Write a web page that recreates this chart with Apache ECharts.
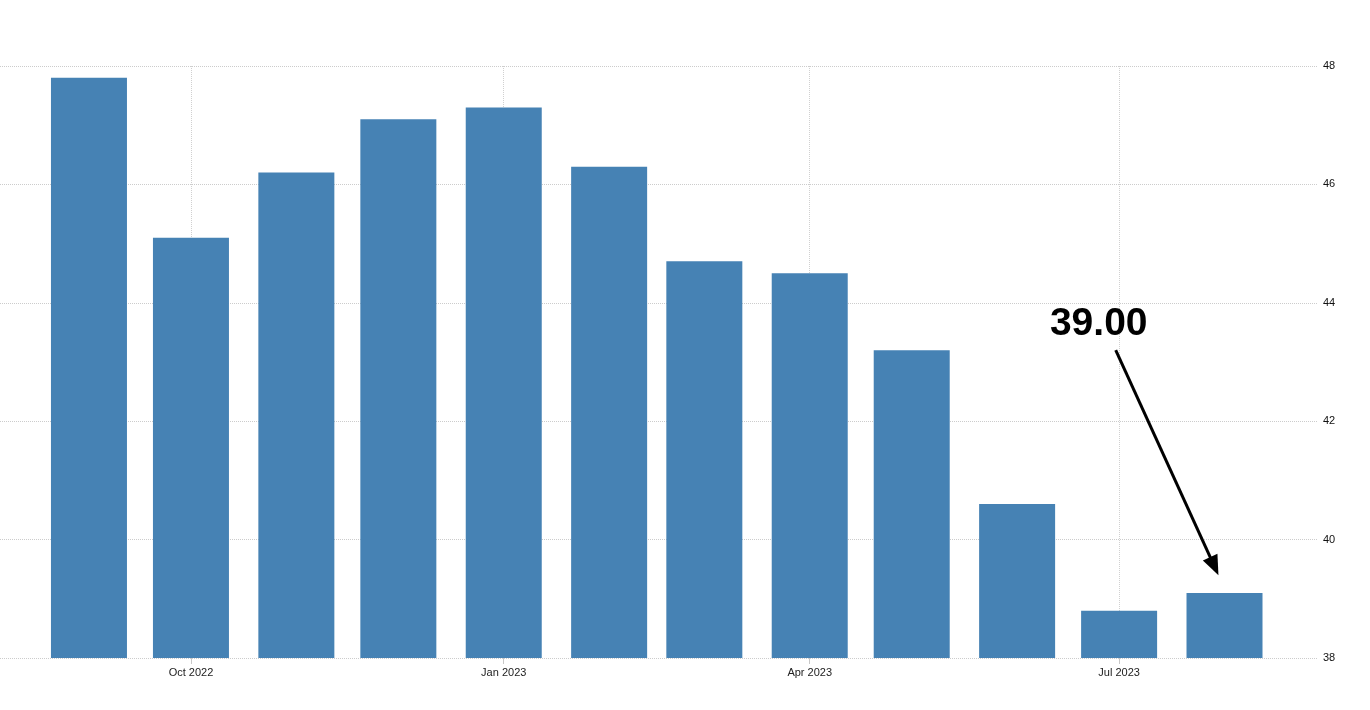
<!DOCTYPE html>
<html>
<head>
<meta charset="utf-8">
<style>
  html, body { margin: 0; padding: 0; background: #fff; }
  #chart { width: 1370px; height: 710px; }
</style>
<script src="https://cdn.jsdelivr.net/npm/echarts@6/dist/echarts.min.js"></script>
</head>
<body>
<div id="chart"></div>
<script>
// months as [year, monthIndex]
const months = [
  [2022, 8], [2022, 9], [2022, 10], [2022, 11],
  [2023, 0], [2023, 1], [2023, 2], [2023, 3],
  [2023, 4], [2023, 5], [2023, 6], [2023, 7]
];
const values = [47.8, 45.1, 46.2, 47.1, 47.3, 46.3, 44.7, 44.5, 43.2, 40.6, 38.8, 39.1];
const labelMonths = [[2022, 9], [2023, 0], [2023, 3], [2023, 6]];
const monthNames = ["Jan", "Feb", "Mar", "Apr", "May", "Jun", "Jul", "Aug", "Sep", "Oct", "Nov", "Dec"];
const lastLabel = "39.00";

const ts = (y, m, d) => new Date(y, m, d || 1).getTime();
const seriesData = months.map((m, i) => [ts(m[0], m[1]), values[i]]);
const labelTicks = labelMonths.map(m => ts(m[0], m[1]));

const chart = echarts.init(document.getElementById("chart"));
chart.setOption({
  animation: false,
  grid: { left: 0, right: 52, top: 66, bottom: 52 },
  xAxis: {
    type: "value",
    scale: true,
    min: ts(2022, 7, 6) - 4 * 3600 * 1000,
    max: ts(2023, 7, 28) + 12 * 3600 * 1000,
    axisLine: { show: false },
    axisTick: {
      show: true,
      customValues: labelTicks,
      length: 6,
      lineStyle: { color: "#c8c8c8" }
    },
    axisLabel: {
      customValues: labelTicks,
      color: "#222",
      fontSize: 11,
      fontFamily: "Arial, Liberation Sans, sans-serif",
      margin: 9,
      formatter: function (v) {
        const d = new Date(v);
        return monthNames[d.getMonth()] + " " + d.getFullYear();
      }
    },
    splitLine: {
      show: true,
      lineStyle: { color: "#d0d0d0", type: "dotted", width: 1 }
    }
  },
  yAxis: {
    type: "value",
    position: "right",
    min: 38,
    max: 48,
    interval: 2,
    axisLine: { show: false },
    axisTick: { show: false },
    axisLabel: {
      color: "#111",
      fontSize: 11,
      fontFamily: "Arial, Liberation Sans, sans-serif",
      margin: 5
    },
    splitLine: {
      lineStyle: { color: "#cccccc", type: "dotted", width: 1 }
    }
  },
  series: [{
    type: "bar",
    data: seriesData,
    barWidth: 76,
    itemStyle: { color: "#4682b4" },
    markPoint: {
      symbol: "circle",
      symbolSize: 0,
      data: [{
        coord: [ts(2023, 5, 25), 43.63],
        label: {
          show: true,
          position: "inside",
          formatter: lastLabel,
          color: "#000",
          fontSize: 39,
          fontWeight: "bold",
          fontFamily: "Arial, Liberation Sans, sans-serif"
        }
      }]
    },
    markLine: {
      silent: true,
      symbol: ["none", "triangle"],
      symbolSize: [16, 20],
      label: { show: false },
      lineStyle: { color: "#000", width: 3, type: "solid" },
      data: [[
        { coord: [ts(2023, 5, 30), 43.2] },
        { coord: [ts(2023, 6, 29, 12), 39.55] }
      ]]
    }
  }]
});
</script>
</body>
</html>
